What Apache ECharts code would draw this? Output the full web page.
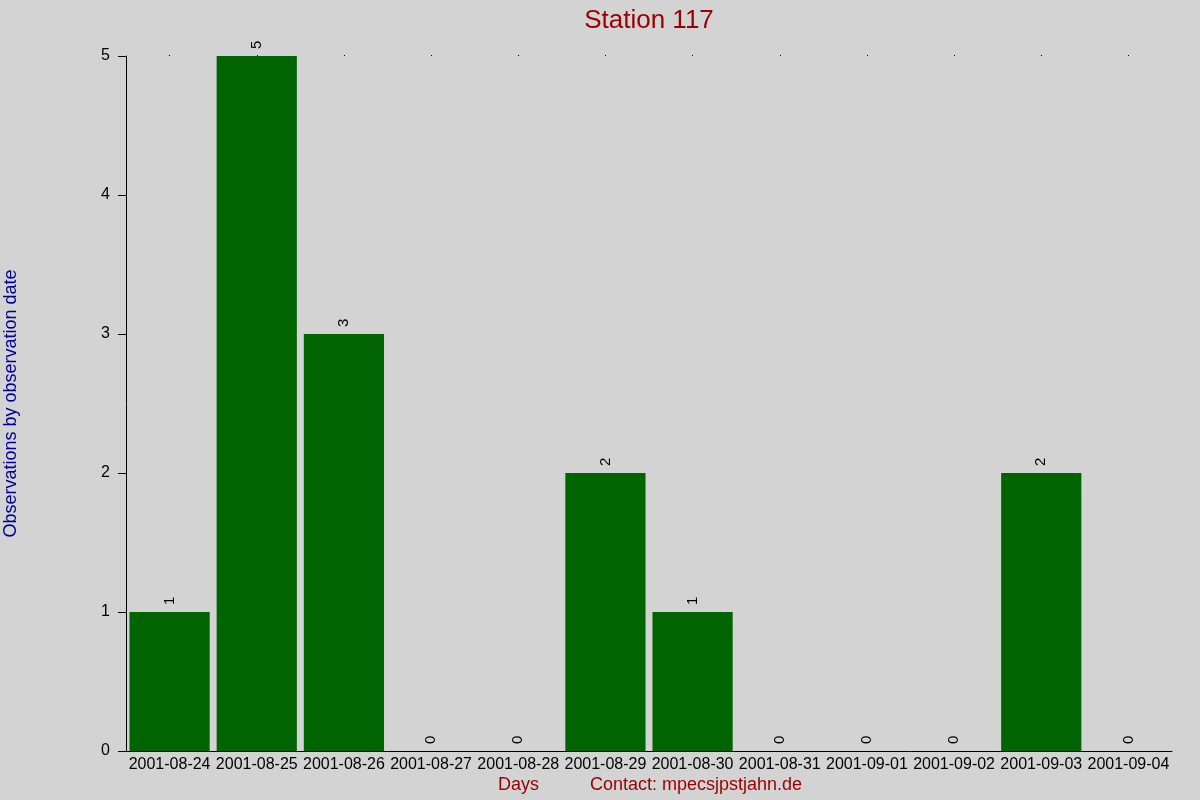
<!DOCTYPE html>
<html>
<head>
    <meta charset="utf-8">
    <title>Station 117</title>
    <script src="https://cdn.jsdelivr.net/npm/echarts@6/dist/echarts.min.js"></script>
    <style>
        html, body { margin: 0; padding: 0; background: #d3d3d3; }
    </style>
</head>
<body>
    <div id="main" style="width: 1200px;height:800px;"></div>
    <script type="text/javascript">
        // days and observation counts
        var days = ['2001-08-24', '2001-08-25', '2001-08-26', '2001-08-27', '2001-08-28', '2001-08-29',
            '2001-08-30', '2001-08-31', '2001-09-01', '2001-09-02', '2001-09-03', '2001-09-04'];
        var counts = [1, 5, 3, 0, 0, 2, 1, 0, 0, 0, 2, 0];
        var yTicks = [0, 1, 2, 3, 4, 5];

        var myChart = echarts.init(document.getElementById('main'));

        var font = 'Liberation Sans, Arial, sans-serif';

        var option = {
            backgroundColor: '#d3d3d3',
            animation: false,
            textStyle: { fontFamily: font },
            title: {
                text: 'Station 117',
                left: 644,
                textAlign: 'center',
                top: 3,
                textStyle: { color: '#990000', fontSize: 26, fontWeight: 'normal', fontFamily: font }
            },
            grid: { left: 126, right: 28, top: 56, bottom: 49, outerBoundsMode: 'none', containLabel: false },
            xAxis: [{
                type: 'category',
                data: days,
                position: 'bottom',
                axisLine: { lineStyle: { color: '#000', width: 1 } },
                axisTick: { show: false },
                axisLabel: { color: '#000', fontSize: 16, margin: 6, interval: 0, fontFamily: font }
            }, {
                // tiny dots at the top of every category
                type: 'category',
                data: days,
                position: 'top',
                axisLine: { show: false },
                axisTick: { show: true, alignWithLabel: true, length: 1, lineStyle: { color: '#000', width: 1 } },
                axisLabel: { show: false }
            }],
            yAxis: {
                type: 'value',
                min: yTicks[0],
                max: yTicks[yTicks.length - 1],
                interval: 1,
                name: 'Observations by observation date',
                nameLocation: 'middle',
                nameGap: 106,
                nameTextStyle: { color: '#000099', fontSize: 18, fontFamily: font },
                axisLine: { show: true, lineStyle: { color: '#000', width: 1 } },
                axisTick: { show: true, inside: false, length: 8, lineStyle: { color: '#000' } },
                axisLabel: { color: '#000', fontSize: 16, margin: 16, fontFamily: font },
                splitLine: { show: false }
            },
            graphic: [{
                type: 'text',
                left: 498,
                top: 776,
                style: { text: 'Days', fill: '#990000', font: '18px ' + font }
            }, {
                type: 'text',
                left: 590,
                top: 776,
                style: { text: 'Contact: mpecsjpstjahn.de', fill: '#990000', font: '18px ' + font }
            }],
            series: [{
                type: 'bar',
                data: counts,
                barCategoryGap: '8%',
                itemStyle: { color: '#006400' },
                label: {
                    show: true,
                    position: 'top',
                    rotate: 90,
                    align: 'left',
                    verticalAlign: 'middle',
                    distance: 7,
                    color: '#000',
                    fontSize: 15,
                    fontFamily: font
                }
            }]
        };

        myChart.setOption(option);
    </script>
</body>
</html>
